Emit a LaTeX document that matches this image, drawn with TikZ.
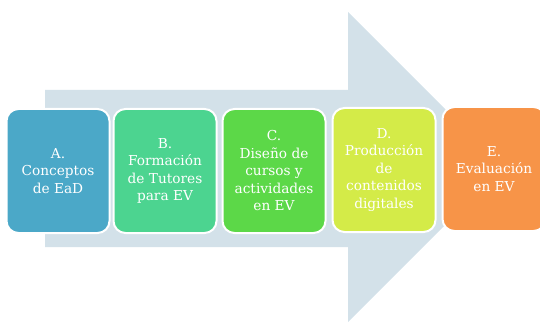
\documentclass[tikz,border=0pt]{standalone}
\usepackage{fontspec}
\setmainfont{DejaVu Serif}
\definecolor{arrowc}{RGB}{211,225,233}
\definecolor{ca}{RGB}{75,168,200}
\definecolor{cb}{RGB}{76,212,144}
\definecolor{cc}{RGB}{92,216,72}
\definecolor{cd}{RGB}{212,235,72}
\definecolor{ce}{RGB}{247,148,72}
\tikzset{stepbox/.style={rounded corners=12pt, draw=white, line width=2pt,
  minimum width=103pt, minimum height=124pt, text=white, align=center,
  inner sep=0pt, font=\fontsize{13.7}{17.5}\selectfont}}
\begin{document}
\begin{tikzpicture}[x=1pt,y=-1pt]
\useasboundingbox (0,0) rectangle (540,323);
\clip (0,0) rectangle (540,323);
\fill[arrowc] (45,90) -- (348,90) -- (348,12) -- (503,167) -- (348,322) -- (348,247) -- (45,247) -- cycle;
\node[stepbox, fill=ca] (a) at (58,171) {A.\\Conceptos\\de EaD};
\node[stepbox, fill=cb] (b) at (165,171) {B.\\Formación\\de Tutores\\para EV};
\node[stepbox, fill=cc] (c) at (274,171) {C.\\Diseño de\\cursos y\\actividades\\en EV};
\node[stepbox, fill=cd] (d) at (384,170) {D.\\Producción\\de\\contenidos\\digitales};
\node[stepbox, fill=ce] (e) at (494,169) {E.\\Evaluación\\en EV};
\end{tikzpicture}
\end{document}
